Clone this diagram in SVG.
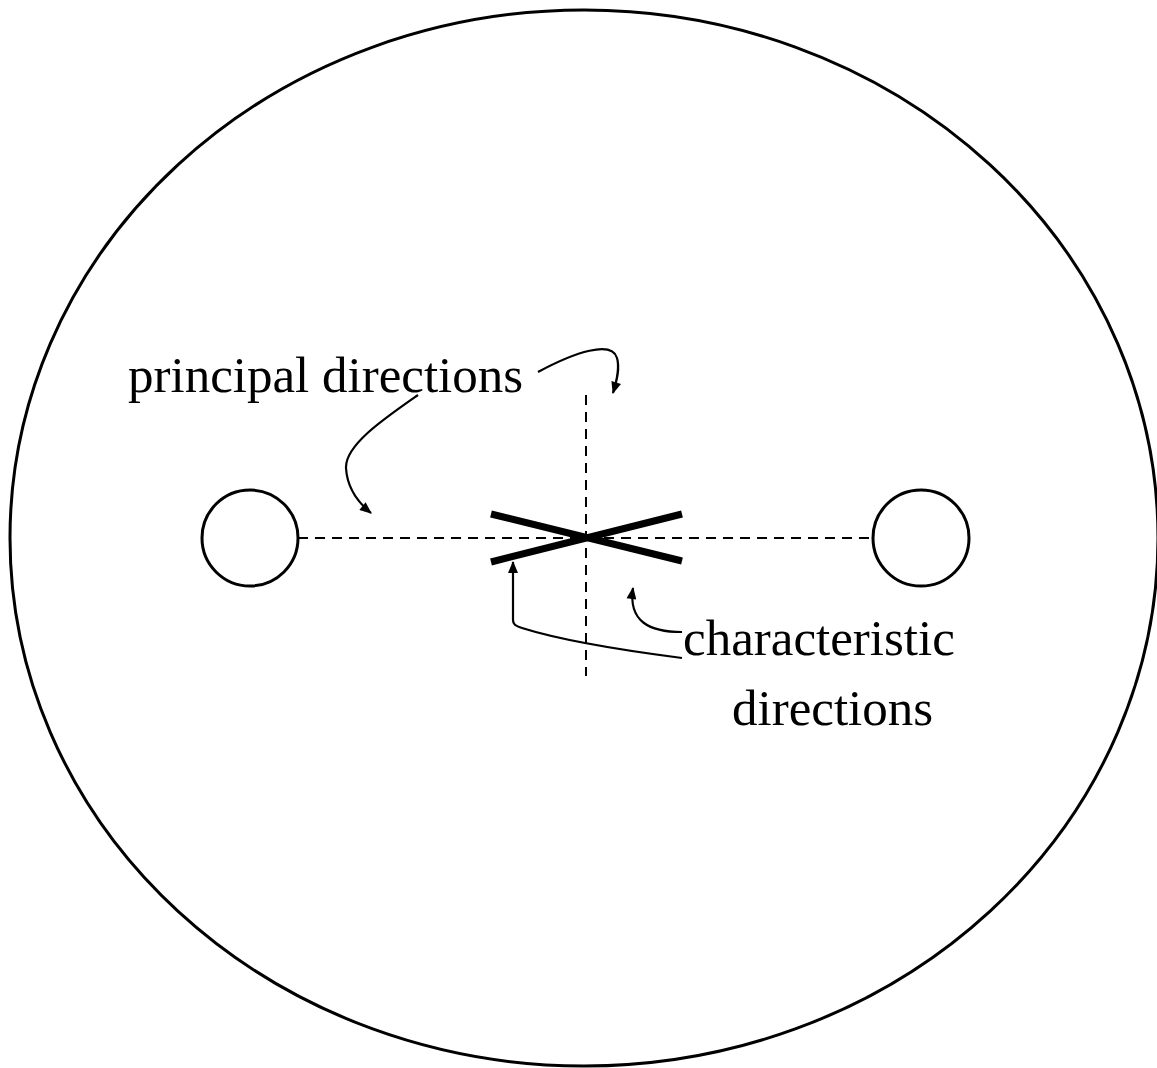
<svg xmlns="http://www.w3.org/2000/svg" width="1157" height="1068" viewBox="0 0 1157 1068">
<style>
.ln{fill:none;stroke:#000;stroke-width:3}
.dash{fill:none;stroke:#000;stroke-width:2;stroke-dasharray:10,7}
.arr{fill:none;stroke:#000;stroke-width:2.2;marker-end:url(#ah)}
.t{font-family:"Liberation Serif",serif;font-size:51px;fill:#000}
</style>
<defs>
<marker id="ah" viewBox="0 0 12 10" refX="11" refY="5" markerWidth="13" markerHeight="10" markerUnits="userSpaceOnUse" orient="auto">
<path d="M0,0 L12,5 L0,10 z" fill="#000"/>
</marker>
</defs>
<rect width="1157" height="1068" fill="#fff"/>
<g id="outline"><ellipse cx="584" cy="538" rx="574" ry="528" class="ln"/></g>
<g id="left-circle"><circle cx="250" cy="538" r="48" class="ln"/></g>
<g id="right-circle"><circle cx="921" cy="538" r="48" class="ln"/></g>
<g id="axes">
<line x1="298" y1="538" x2="873" y2="538" class="dash"/>
<line x1="586" y1="395" x2="586" y2="676" class="dash"/>
</g>
<g id="characteristic-cross">
<line x1="491" y1="514" x2="682" y2="561" stroke="#000" stroke-width="7"/>
<line x1="491" y1="562" x2="682" y2="514" stroke="#000" stroke-width="7"/>
</g>
<g id="labels">
<text class="t" x="128" y="392">principal directions</text>
<text class="t" x="683" y="655">characteristic</text>
<text class="t" x="732" y="725">directions</text>
</g>
<g id="connectors">
<path class="arr" d="M538,372 C575,352 612,340 617,358 C620,368 617,380 613,393"/>
<path class="arr" d="M418,395 C385,418 345,445 346,468 C347,485 355,500 371,513"/>
<path class="arr" d="M682,632 C650,632 628,622 633,588"/>
<path class="arr" d="M682,658 C620,650 560,640 522,628 C515,626 513,624 513,620 L513,562"/>
</g>
</svg>
